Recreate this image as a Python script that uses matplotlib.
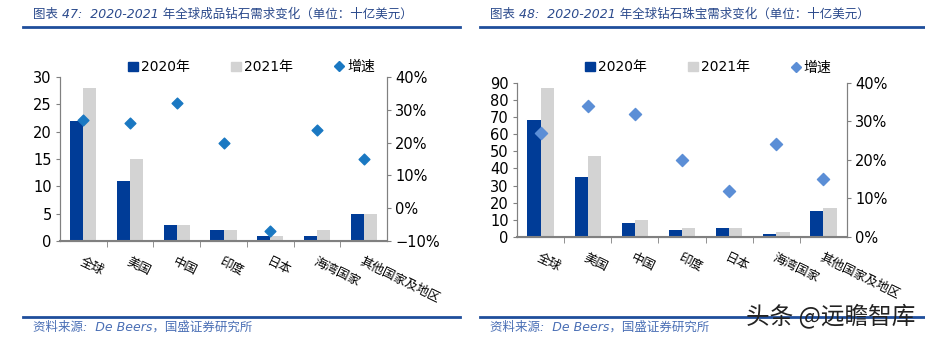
import numpy as np
import matplotlib.pyplot as plt
from matplotlib.lines import Line2D
from matplotlib.patches import Patch
from matplotlib.ticker import PercentFormatter, FixedLocator

plt.rcParams['font.family'] = ['DejaVu Sans', 'Noto Sans CJK SC']

regions = ['全球', '美国', '中国', '印度', '日本', '海湾国家', '其他国家及地区']

# chart 47: polished diamonds (bn USD)
pd_2020 = [22, 11, 3, 2, 1, 1, 5]
pd_2021 = [28, 15, 3, 2, 1, 2, 5]
pd_growth = [0.27, 0.26, 0.32, 0.20, -0.07, 0.24, 0.15]

# chart 48: diamond jewellery (bn USD)
dj_2020 = [68, 35, 8, 4, 5, 2, 15]
dj_2021 = [87, 47, 10, 5, 5, 3, 17]
dj_growth = [0.27, 0.34, 0.32, 0.20, 0.12, 0.24, 0.15]

navy = '#003C97'
grey = '#D3D3D3'
spine_c = '#808080'
title_c = '#2B4A8C'

fig = plt.figure(figsize=(9.25, 3.38), dpi=100)


def panel(rect, v20, v21, gr, ymax, ystep, gmin, gmax, dcol, dsize, leg_xy):
    ax = fig.add_axes(rect)
    x = np.arange(len(regions))
    w = 0.28
    ax.bar(x - w / 2, v20, w, color=navy, zorder=2)
    ax.bar(x + w / 2, v21, w, color=grey, zorder=2)
    ax.set_xlim(-0.5, len(regions) - 0.5)
    ax.set_ylim(0, ymax)
    ax.set_yticks(np.arange(0, ymax + 1, ystep))
    ax2 = ax.twinx()
    ax2.scatter(x, gr, marker='D', s=dsize, color=dcol, zorder=3)
    ax2.set_ylim(gmin, gmax)
    ax2.set_yticks(np.arange(gmin, gmax + 0.001, 0.1))
    ax2.yaxis.set_major_formatter(PercentFormatter(1.0, decimals=0))
    for a in (ax, ax2):
        a.spines['top'].set_visible(False)
        for s in ('left', 'right', 'bottom'):
            a.spines[s].set_color(spine_c)
        a.tick_params(axis='y', labelsize=10.5, length=3, color=spine_c, pad=3)
    ax.spines['bottom'].set_linewidth(1.5)
    ax.set_xticks(x)
    ax.set_xticklabels(regions, rotation=-26, ha='left', rotation_mode='anchor',
                       fontsize=9, family=['Noto Sans CJK SC'])
    ax.tick_params(axis='x', length=0, pad=10)
    ax.xaxis.set_minor_locator(FixedLocator(np.arange(0.5, len(regions) - 1, 1)))
    ax.tick_params(axis='x', which='minor', length=4, color=spine_c)
    handles = [Patch(color=navy), Patch(color=grey),
               Line2D([], [], marker='D', ls='none', color=dcol, markersize=5)]
    ax.legend(handles, ['2020年', '2021年', '增速'], ncol=3, frameon=False,
              loc='center', bbox_to_anchor=leg_xy,
              handlelength=0.7, handleheight=0.7, handletextpad=0.2,
              columnspacing=3.0, prop={'family': ['DejaVu Sans', 'Noto Sans CJK SC'], 'size': 10})
    return ax


panel([0.0649, 0.287, 0.3535, 0.485], pd_2020, pd_2021, pd_growth,
      30, 5, -0.1, 0.4, '#1A78C2', 30, (0.586, 1.06))
panel([0.5589, 0.299, 0.3568, 0.456], dj_2020, dj_2021, dj_growth,
      90, 10, 0.0, 0.4, '#5B8ED6', 38, (0.58, 1.10))

# titles, rules, sources
fam = ['DejaVu Sans', 'Noto Sans CJK SC']
fig.text(33 / 925, 1 - 14 / 338, '图表 47:  2020-2021 年全球成品钻石需求变化（单位：十亿美元）',
         fontsize=9, style='italic', color=title_c, va='center', family=fam)
fig.text(490 / 925, 1 - 14 / 338, '图表 48:  2020-2021 年全球钻石珠宝需求变化（单位：十亿美元）',
         fontsize=9, style='italic', color=title_c, va='center', family=fam)
for x0, x1 in ((23, 460), (480, 925)):
    for yy in (27, 317):
        fig.add_artist(Line2D([x0 / 925, x1 / 925], [1 - yy / 338] * 2,
                              color='#1F4E9C', lw=2))
fig.text(33 / 925, 1 - 327 / 338, '资料来源:  De Beers，国盛证券研究所',
         fontsize=9, style='italic', color='#4A6FB5', va='center', family=fam)
fig.text(490 / 925, 1 - 327 / 338, '资料来源:  De Beers，国盛证券研究所',
         fontsize=9, style='italic', color='#4A6FB5', va='center', family=fam)
fig.text(915 / 925, 1 - 316 / 338, '头条 @远瞻智库', fontsize=17, color='#222222',
         ha='right', va='center', family=['Noto Sans CJK SC'])

fig.savefig('out.png', dpi=100)
